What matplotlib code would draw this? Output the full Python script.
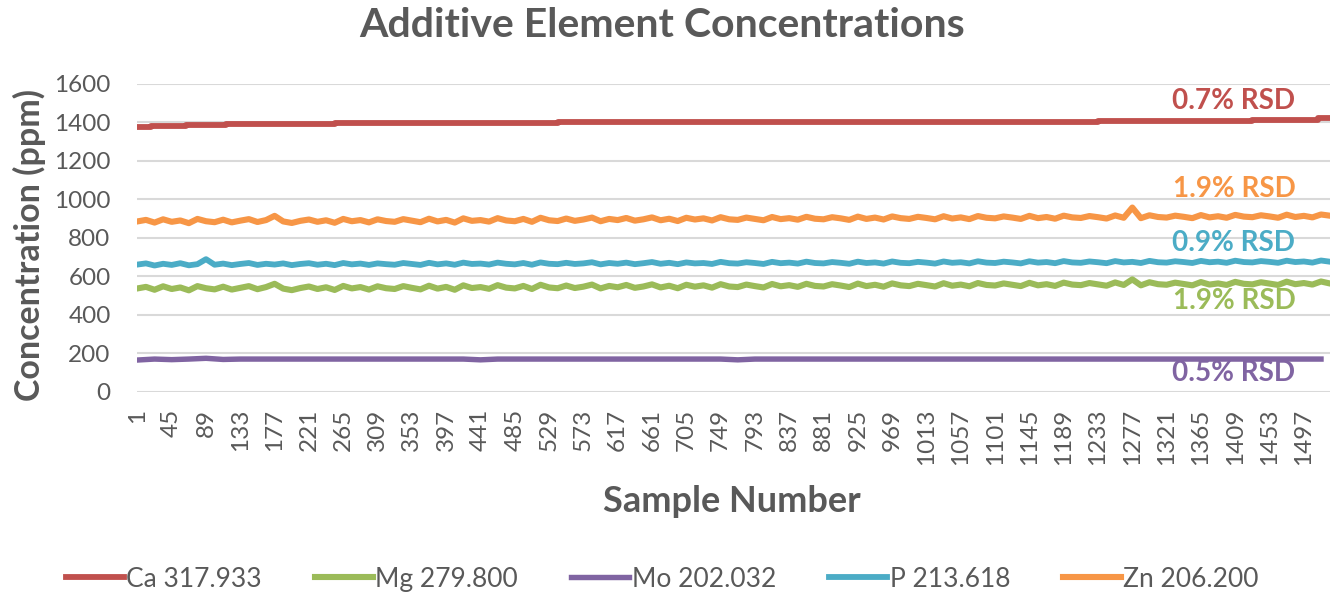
import matplotlib
matplotlib.use("Agg")
import matplotlib.pyplot as plt

# ---- data ----
samples = list(range(1, 1531, 11))     # every 11th sample, 140 points
samples_mo = list(range(1, 1531, 22))  # Mo is nearly flat: coarser grid

zn = [886, 894, 880, 897, 884, 891, 877, 899, 887, 882,
      895, 881, 890, 898, 883, 893, 915, 886, 878, 889,
      896, 884, 892, 879, 899, 887, 893, 881, 897, 888,
      884, 898, 890, 882, 900, 886, 894, 880, 902, 889,
      893, 885, 903, 891, 887, 899, 884, 905, 892, 888,
      901, 889, 896, 906, 887, 899, 893, 904, 890, 897,
      907, 892, 900, 888, 905, 896, 902, 891, 908, 897,
      894, 906, 899, 892, 909, 898, 903, 895, 910, 900,
      897, 908, 902, 894, 911, 899, 906, 896, 912, 903,
      899, 910, 904, 897, 913, 901, 907, 898, 914, 905,
      902, 912, 906, 899, 915, 903, 909, 900, 916, 907,
      904, 914, 908, 901, 917, 905, 958, 903, 918, 909,
      906, 916, 910, 903, 919, 907, 913, 905, 920, 911,
      908, 918, 912, 905, 921, 909, 915, 907, 922, 916]

mg = [538, 546, 531, 549, 535, 543, 528, 550, 539, 533,
      547, 532, 541, 550, 534, 545, 562, 537, 529, 540,
      548, 535, 544, 530, 551, 538, 545, 532, 549, 539,
      535, 550, 541, 533, 552, 537, 546, 531, 554, 540,
      545, 536, 555, 542, 538, 551, 535, 557, 543, 539,
      553, 540, 547, 558, 538, 551, 544, 556, 541, 548,
      559, 543, 552, 539, 557, 547, 554, 542, 560, 548,
      545, 558, 550, 543, 561, 549, 555, 546, 562, 551,
      548, 560, 553, 545, 563, 550, 557, 547, 564, 554,
      550, 562, 555, 548, 565, 552, 558, 549, 566, 556,
      553, 564, 557, 550, 567, 554, 560, 551, 568, 558,
      555, 566, 559, 552, 569, 556, 585, 554, 570, 560,
      557, 568, 561, 554, 571, 558, 564, 556, 572, 562,
      559, 570, 563, 556, 573, 560, 566, 558, 574, 564]

p = [662, 668, 657, 666, 660, 669, 658, 664, 690, 661,
     667, 659, 665, 670, 660, 666, 662, 668, 659, 665,
     669, 661, 666, 659, 670, 663, 667, 660, 668, 664,
     661, 670, 665, 660, 671, 663, 668, 661, 672, 665,
     667, 662, 672, 666, 663, 670, 661, 673, 666, 664,
     671, 665, 668, 674, 663, 670, 666, 672, 664, 669,
     675, 666, 671, 664, 673, 668, 670, 665, 676, 669,
     667, 674, 670, 665, 676, 669, 672, 667, 677, 670,
     668, 675, 671, 666, 677, 670, 673, 667, 678, 671,
     669, 676, 672, 667, 678, 671, 674, 668, 679, 672,
     670, 677, 673, 668, 679, 672, 675, 669, 680, 673,
     671, 678, 674, 669, 680, 673, 676, 670, 681, 674,
     672, 679, 675, 670, 681, 674, 677, 671, 682, 675,
     673, 680, 676, 671, 682, 675, 678, 672, 683, 677]

mo = [166, 171, 168, 171, 175, 169, 171, 171, 171, 171,
      171, 171, 171, 171, 171, 171, 171, 171, 171, 171,
      167, 171, 171, 171, 171, 171, 171, 171, 171, 171,
      171, 171, 171, 171, 171, 167, 171, 171, 171, 171,
      171, 171, 171, 171, 171, 171, 171, 171, 171, 171,
      171, 171, 171, 171, 171, 171, 171, 171, 171, 171,
      171, 171, 171, 171, 171, 171, 171, 171, 171, 171]

# Ca drifts upward in small steps
ca_samples = [1, 18, 63, 115, 255, 540, 903, 1233, 1430, 1515, 1530]
ca = [1375, 1380, 1386, 1391, 1396, 1400, 1404, 1409, 1414, 1421, 1421]

labels = ["Ca 317.933", "Mg 279.800", "Mo 202.032", "P 213.618", "Zn 206.200"]
colors = ["#C0504D", "#9BBB59", "#8064A2", "#4BACC6", "#F79646"]

rsd_text = ["0.7% RSD", "1.9% RSD", "0.5% RSD", "0.9% RSD", "1.9% RSD"]
rsd_y = [1512, 473, 99, 774, 1055]

xticks = list(range(1, 1498, 44))

plt.rcParams["font.family"] = ["Lato", "DejaVu Sans"]
grey = "#595959"

fig = plt.figure(figsize=(13.38, 5.99), dpi=100)
ax = fig.add_axes([0.1024, 0.3456, 0.8916, 0.5142])

ax.plot(ca_samples, ca, color=colors[0], lw=4.2, drawstyle="steps-post", label=labels[0])
ax.plot(samples, mg, color=colors[1], lw=4.4, label=labels[1])
ax.plot(samples_mo, mo, color=colors[2], lw=3.9, label=labels[2])
ax.plot(samples, p, color=colors[3], lw=4.2, label=labels[3])
ax.plot(samples, zn, color=colors[4], lw=4.4, label=labels[4])

for t, y, c in zip(rsd_text, rsd_y, colors):
    ax.text(1486, y, t, color=c, fontsize=20, fontweight="bold",
            ha="right", va="center")

ax.set_xlim(0.5, 1530.5)
ax.set_ylim(0, 1600)
ax.set_yticks(range(0, 1601, 200))
ax.set_xticks(xticks)
ax.set_xticklabels([str(x) for x in xticks], rotation=90)
ax.tick_params(axis="both", length=0, colors=grey, labelsize=17.5)
ax.tick_params(axis="y", pad=19)
ax.tick_params(axis="x", pad=12)
ax.grid(axis="y", color="#D9D9D9", lw=1.5)
ax.set_axisbelow(True)
for s in ax.spines.values():
    s.set_visible(False)

fig.text(0.495, 0.958, "Additive Element Concentrations", fontsize=29.5,
         fontweight="bold", color=grey, ha="center", va="center")
ax.set_xlabel("Sample Number", fontsize=26, fontweight="bold", color=grey)
ax.xaxis.set_label_coords(0.499, -0.302)
ax.set_ylabel("Concentration (ppm)", fontsize=24.5, fontweight="bold", color=grey)
ax.yaxis.set_label_coords(-0.076, 0.477)

fig.legend(loc="center", bbox_to_anchor=(0.495, 0.033), ncol=5, frameon=False,
           fontsize=19, handlelength=2.2, columnspacing=2.0, handletextpad=0.1,
           labelcolor=grey)

fig.savefig("out.png", dpi=100)
